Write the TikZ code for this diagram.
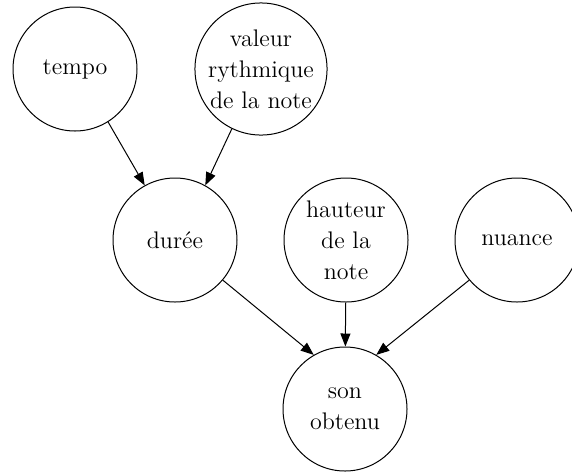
\documentclass[tikz,border=0pt]{standalone}
\usetikzlibrary{arrows.meta}
\tikzset{
  etat/.style={draw, circle, line width=0.5pt, minimum size=62pt, inner sep=0pt,
    align=center, font=\fontsize{12}{15.5}\selectfont},
  fleche/.style={line width=0.5pt, -{Triangle[length=6.5pt,width=5pt]}}
}
\begin{document}
\begin{tikzpicture}[x=0.5pt, y=-0.5pt]
  \useasboundingbox (0, 0) rectangle (572, 472);
  \node[etat] (tempo) at (75, 69) {tempo};
  \node[etat] (valeur) at (261, 69) {valeur\\rythmique\\de la note};
  \node[etat] (duree) at (175, 240) {durée};
  \node[etat] (hauteur) at (346, 240) {hauteur\\de la\\note};
  \node[etat] (nuance) at (517, 240) {nuance};
  \node[etat] (son) at (345, 409) {son\\obtenu};
  \draw[fleche] (tempo.-58) -- (duree.119);
  \draw[fleche] (valeur.-116) -- (duree.61);
  \draw[fleche] (duree.-40) -- (son.120);
  \draw[fleche] (hauteur) -- (son);
  \draw[fleche] (nuance.220) -- (son.60);
\end{tikzpicture}
\end{document}
